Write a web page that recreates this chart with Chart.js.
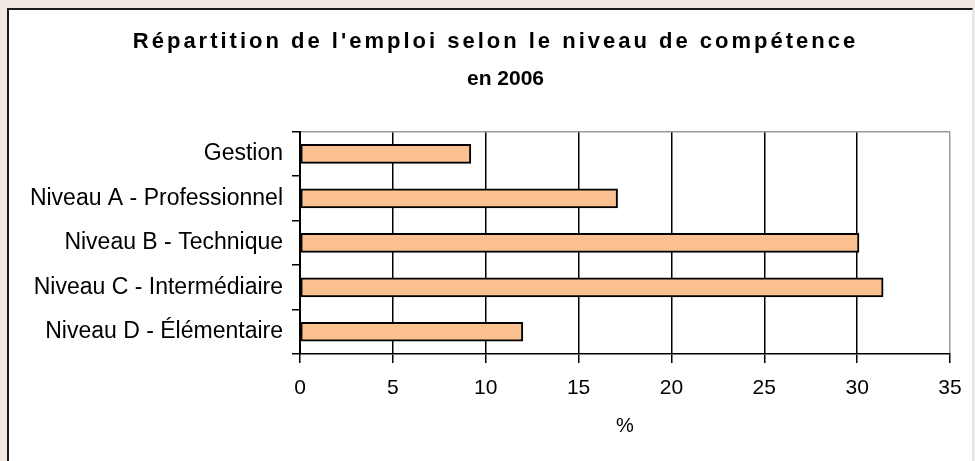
<!DOCTYPE html>
<html lang="fr">
<head>
<meta charset="utf-8">
<title>Répartition de l'emploi selon le niveau de compétence</title>
<script src="https://cdn.jsdelivr.net/npm/chart.js@4"></script>
<style>
  html, body { margin: 0; padding: 0; overflow: hidden; }
  body { width: 975px; height: 461px; background: #f0e8e2; position: relative; }
  #cadre {
    position: absolute; left: 7px; top: 8px; width: 963px; height: 460px;
    background: #fff; border-top: 2px solid #1a1a1a; border-left: 2px solid #1a1a1a;
    border-right: 1px solid #e4e4e4;
  }
  #graphique { position: absolute; left: 0; top: 0; }
</style>
</head>
<body>
<div id="cadre"></div>
<canvas id="graphique" width="975" height="461"></canvas>
<script>
const titre = "Répartition de l'emploi selon le niveau de compétence";
const sousTitre = 'en 2006';
const niveaux = [
    'Gestion',
    'Niveau A - Professionnel',
    'Niveau B - Technique',
    'Niveau C - Intermédiaire',
    'Niveau D - Élémentaire'
];
const pourcentages = [9.2, 17.1, 30.1, 31.4, 12.0];
const axeMin = 0;
const axeMax = 35;
const pas = 5;
const titreAxe = '%';

const police = "'Liberation Sans', Arial, sans-serif";

// le titre de l'original est espacé et les deux lignes ne sont pas centrées au même endroit
const reglageTitres = {
    id: 'reglageTitres',
    afterInit(chart) {
        chart.boxes.forEach(boite => {
            if (!boite.options || boite.options.text === undefined) return;
            const reglage = boite === chart.titleBlock
                ? { dx: 6, espacement: '3px' }
                : { dx: 16, espacement: '0px' };
            const dessiner = boite.draw.bind(boite);
            boite.draw = function (zone) {
                const c = chart.ctx;
                c.save();
                c.letterSpacing = reglage.espacement;
                c.translate(reglage.dx, 0);
                dessiner(zone);
                c.restore();
            };
        });
    }
};

const ctx = document.getElementById('graphique').getContext('2d');

new Chart(ctx, {
    type: 'bar',
    data: {
        labels: niveaux,
        datasets: [{
            data: pourcentages,
            backgroundColor: '#fac08f',
            borderColor: '#000',
            borderWidth: 2,
            borderSkipped: false,
            barThickness: 19
        }]
    },
    options: {
        indexAxis: 'y',
        responsive: false,
        animation: false,
        layout: {
            padding: { left: 29, right: 25, top: 0, bottom: 22.5 }
        },
        plugins: {
            legend: { display: false },
            tooltip: { enabled: false },
            title: {
                display: true,
                text: titre,
                color: '#000',
                font: { family: police, size: 22, weight: 'bold', lineHeight: 1.2 },
                padding: { top: 28.8, bottom: 0 }
            },
            subtitle: {
                display: true,
                text: sousTitre,
                color: '#000',
                font: { family: police, size: 21, weight: 'bold', lineHeight: 1.2 },
                padding: { top: 11.2, bottom: 40.1 }
            }
        },
        scales: {
            x: {
                min: axeMin,
                max: axeMax,
                ticks: {
                    stepSize: pas,
                    color: '#000',
                    padding: 13,
                    font: { family: police, size: 21 }
                },
                grid: {
                    color: (c) => c.index === 7 ? '#9a9a9a' : '#000',
                    lineWidth: 1.5,
                    tickColor: '#000',
                    tickLength: 9
                },
                border: { color: '#000', width: 1.5 },
                title: {
                    display: true,
                    text: titreAxe,
                    color: '#000',
                    font: { family: police, size: 20 },
                    padding: { top: 0.3, bottom: 0 }
                }
            },
            y: {
                ticks: {
                    color: '#000',
                    padding: 9,
                    font: { family: police, size: 23 }
                },
                grid: {
                    offset: true,
                    color: (c) => c.index === 0 ? '#9a9a9a' : 'transparent',
                    lineWidth: 1.5,
                    tickColor: '#000',
                    tickLength: 8
                },
                border: { color: '#000', width: 2 },
                afterFit(scale) {
                    scale.width = 271;
                }
            }
        }
    },
    plugins: [reglageTitres]
});
</script>
</body>
</html>
